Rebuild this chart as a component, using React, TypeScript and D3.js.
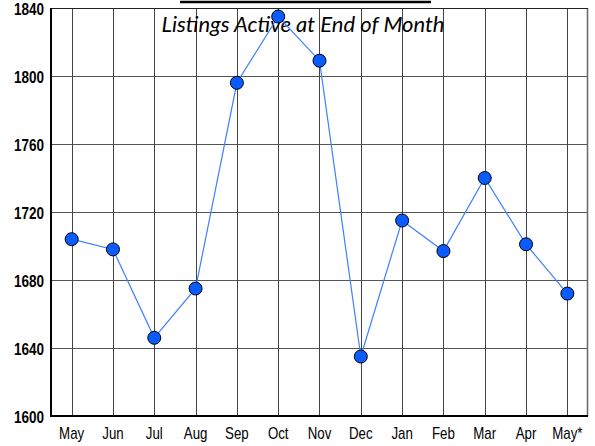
import React from "react";
import * as d3 from "d3";

const months = ["May", "Jun", "Jul", "Aug", "Sep", "Oct", "Nov", "Dec", "Jan", "Feb", "Mar", "Apr", "May*"];
const listings = [1704, 1698, 1646, 1675, 1796, 1835, 1809, 1635, 1715, 1697, 1740, 1701, 1672];
const yTicks = [1600, 1640, 1680, 1720, 1760, 1800, 1840];
const title = "Listings Active at End of Month";

const W = 595, H = 446;
const L = 51, R = 588, T = 8, B = 416;

export default function App() {
  const x = d3.scaleBand<string>().domain(months).range([L, R]).paddingInner(0).paddingOuter(0);
  const cx = (m: string) => (x(m) as number) + x.bandwidth() / 2;
  const y = d3.scaleLinear().domain([1600, 1840]).range([B, T]);
  const line = d3.line<number>().x((_, i) => cx(months[i])).y((d) => y(d));

  return (
    <svg width={W} height={H} style={{ position: "absolute", left: 0, top: 0, background: "#fff" }}>
      <rect x={0} y={0} width={W} height={H} fill="#fff" />
      <line x1={180} x2={431} y1={2} y2={2} stroke="#000" strokeWidth={2.5} />
      {yTicks.map((t) => (
        <line key={"h" + t} x1={L} x2={R} y1={Math.round(y(t)) + 0.5} y2={Math.round(y(t)) + 0.5} stroke="#555" strokeWidth={1} />
      ))}
      {months.map((m) => (
        <line key={"v" + m} x1={Math.round(cx(m)) + 0.5} x2={Math.round(cx(m)) + 0.5} y1={T} y2={B} stroke="#444" strokeWidth={1} />
      ))}
      <line x1={R - 0.5} x2={R - 0.5} y1={T} y2={B} stroke="#666" strokeWidth={1.5} />
      <line x1={L} x2={R} y1={T + 0.5} y2={T + 0.5} stroke="#222" strokeWidth={1} />
      <line x1={L} x2={L} y1={T} y2={B + 1} stroke="#000" strokeWidth={2} />
      <line x1={L - 1} x2={R} y1={B} y2={B} stroke="#000" strokeWidth={2} />
      <text x={303} y={32} textAnchor="middle" fontFamily="Lato, 'Open Sans', sans-serif" fontStyle="italic" fontSize={22} fill="#000">
        {title}
      </text>
      {yTicks.map((t) => (
        <text key={"yl" + t} transform={`translate(44,${y(t) + 7}) scale(0.82,1)`} textAnchor="end" fontFamily="'Liberation Sans', Arial, sans-serif" fontWeight="bold" fontSize={16.5} fill="#000">
          {t}
        </text>
      ))}
      {months.map((m) => (
        <text key={"xl" + m} transform={`translate(${cx(m)},439) scale(0.83,1)`} textAnchor="middle" fontFamily="'Liberation Sans', Arial, sans-serif" fontSize={16} fill="#000">
          {m}
        </text>
      ))}
      <path d={line(listings) || ""} fill="none" stroke="#3f7fff" strokeWidth={1.2} />
      {listings.map((v, i) => (
        <circle key={"c" + i} cx={cx(months[i])} cy={y(v)} r={6.5} fill="#0a5cff" stroke="#000" strokeWidth={1} />
      ))}
    </svg>
  );
}
